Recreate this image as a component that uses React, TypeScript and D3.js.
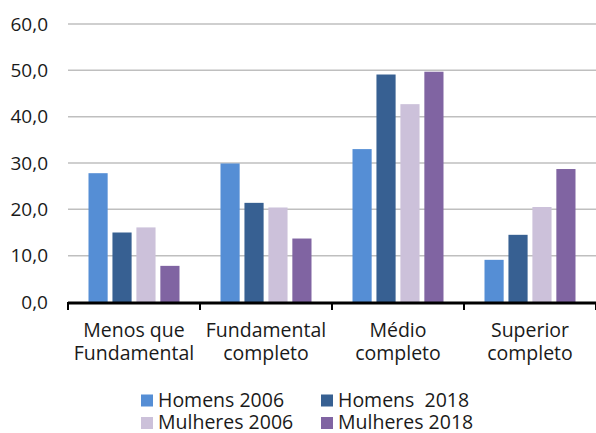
import React from 'react';
import * as d3 from 'd3';

const categories = [
  ['Menos que', 'Fundamental'],
  ['Fundamental', 'completo'],
  ['Médio', 'completo'],
  ['Superior', 'completo'],
];
const seriesNames = ['Homens 2006', 'Homens  2018', 'Mulheres 2006', 'Mulheres 2018'];
const seriesColors = ['#558ED5', '#376092', '#CCC1DA', '#8064A2'];
const homens2006 = [27.8, 29.9, 33.0, 9.1];
const homens2018 = [15.0, 21.4, 49.1, 14.5];
const mulheres2006 = [16.1, 20.4, 42.7, 20.5];
const mulheres2018 = [7.8, 13.7, 49.7, 28.7];
const yTicks = [0, 10, 20, 30, 40, 50, 60];

const seriesValues = [homens2006, homens2018, mulheres2006, mulheres2018];

const W = 596;
const H = 433;
const font = '"Open Sans", "Noto Sans", sans-serif';

const App: React.FC = () => {
  const x = d3.scaleBand<number>().domain(d3.range(categories.length)).range([68, 596]);
  const inner = d3.scaleBand<number>().domain(d3.range(4)).range([20.5, x.bandwidth() - 20.5]).paddingInner(0.2);
  const y = d3.scaleLinear().domain([0, 60]).range([302, 24]);
  const fmt = (v: number) => d3.format('.1f')(v).replace('.', ',');

  // posição das entradas da legenda (2 colunas x 2 linhas)
  const legendPos = [
    [141, 406.5], [321, 406.5], [141, 429], [321, 429],
  ];

  return (
    <svg width={W} height={H} style={{ position: 'absolute', left: 0, top: 0 }} fontFamily={font}>
      <rect width={W} height={H} fill="#fff" />
      {yTicks.filter((t) => t > 0).map((t) => (
        <line key={t} x1={68} x2={596} y1={y(t)} y2={y(t)} stroke="#BFBFBF" strokeWidth={1.5} />
      ))}
      {yTicks.map((t) => (
        <text key={t} x={48} y={y(t)} dy="0.35em" textAnchor="end" fontSize={19} fill="#1a1a1a">
          {fmt(t)}
        </text>
      ))}
      {seriesValues.map((vals, s) =>
        vals.map((v, i) => (
          <rect
            key={`${s}-${i}`}
            x={(x(i) as number) + (inner(s) as number)}
            y={y(v)}
            width={inner.bandwidth()}
            height={y(0) - y(v)}
            fill={seriesColors[s]}
          />
        ))
      )}
      <line x1={68} x2={596} y1={y(0) + 1} y2={y(0) + 1} stroke="#000" strokeWidth={3} />
      {d3.range(categories.length + 1).map((i) => {
        const tx = i < categories.length ? (x(i) as number) : 596;
        return <line key={i} x1={tx} x2={tx} y1={y(0)} y2={y(0) + 8} stroke="#000" strokeWidth={2} />;
      })}
      {categories.map((lines, i) => (
        <text key={i} x={(x(i) as number) + x.bandwidth() / 2} textAnchor="middle" fontSize={19.5} fill="#1a1a1a">
          <tspan x={(x(i) as number) + x.bandwidth() / 2} y={337}>{lines[0]}</tspan>
          <tspan x={(x(i) as number) + x.bandwidth() / 2} y={359.5}>{lines[1]}</tspan>
        </text>
      ))}
      {seriesNames.map((name, s) => (
        <g key={name}>
          <rect x={legendPos[s][0]} y={legendPos[s][1] - 12} width={12} height={12} fill={seriesColors[s]} />
          <text x={legendPos[s][0] + 17} y={legendPos[s][1]} fontSize={19.5} fill="#1a1a1a" style={{ whiteSpace: 'pre' }}>
            {name}
          </text>
        </g>
      ))}
    </svg>
  );
};

export default App;
